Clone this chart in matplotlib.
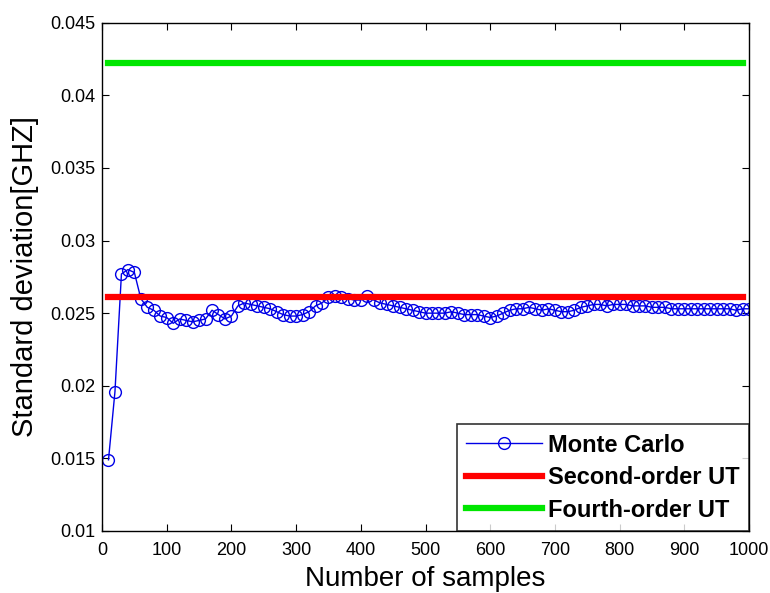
import numpy as np
import matplotlib
matplotlib.use('Agg')
import matplotlib.pyplot as plt

plt.rcParams['font.family'] = ['Liberation Sans', 'DejaVu Sans']

# Monte Carlo estimate of the std. dev. vs number of samples
n_samples = list(range(10, 1001, 10))
mc_std = [
    0.0149, 0.0196, 0.0277, 0.0280, 0.0278, 0.0260, 0.0254, 0.0252, 0.0248, 0.0247,
    0.0243, 0.0246, 0.0245, 0.0244, 0.0245, 0.0246, 0.0252, 0.0249, 0.0246, 0.0248,
    0.0255, 0.0257, 0.0256, 0.0255, 0.0254, 0.0253, 0.0251, 0.0249, 0.0248, 0.0248,
    0.0249, 0.0251, 0.0255, 0.0257, 0.0261, 0.0262, 0.0261, 0.0260, 0.0259, 0.0259,
    0.0262, 0.0259, 0.0257, 0.0256, 0.0255, 0.0254, 0.0253, 0.0252, 0.0251, 0.0250,
    0.0250, 0.0250, 0.0250, 0.0251, 0.0250, 0.0249, 0.0249, 0.0249, 0.0248, 0.0247,
    0.0248, 0.0250, 0.0252, 0.0253, 0.0253, 0.0254, 0.0253, 0.0252, 0.0253, 0.0252,
    0.0251, 0.0251, 0.0252, 0.0254, 0.0255, 0.0256, 0.0256, 0.0255, 0.0256, 0.0256,
    0.0256, 0.0255, 0.0255, 0.0255, 0.0254, 0.0254, 0.0254, 0.0253, 0.0253, 0.0253,
    0.0253, 0.0253, 0.0253, 0.0253, 0.0253, 0.0253, 0.0253, 0.0252, 0.0253, 0.0253,
]

# UT estimates are constant
ut2_x = [10, 990]
ut2_std = [0.0261, 0.0261]
ut4_x = [10, 990]
ut4_std = [0.0422, 0.0422]

fig = plt.figure(figsize=(7.7, 5.93), dpi=100)
ax = fig.add_axes([0.1325, 0.1046, 0.8402, 0.8571])

ax.plot(n_samples, mc_std, color='#0000e6', lw=1.0, marker='o', ms=8.5,
        mfc='none', mec='#0000e6', mew=1.0, label='Monte Carlo')
ax.plot(ut2_x, ut2_std, color='#ff0000', lw=4.5, label='Second-order UT')
ax.plot(ut4_x, ut4_std, color='#00e600', lw=4.5, label='Fourth-order UT')

ax.set_xlim(0, 1000)
ax.set_ylim(0.01, 0.045)
ax.set_xticks(np.arange(0, 1001, 100))
ax.set_yticks(np.arange(0.01, 0.0451, 0.005))
ax.set_yticklabels(['0.01', '0.015', '0.02', '0.025', '0.03', '0.035', '0.04', '0.045'])
ax.tick_params(direction='in', top=True, right=True, labelsize=13, length=5)
ax.tick_params(axis='x', pad=8)
ax.tick_params(axis='y', pad=5)
for s in ax.spines.values():
    s.set_linewidth(1.0)

ax.set_xlabel('Number of samples', fontsize=20, labelpad=5)
ax.set_ylabel('Standard deviation[GHZ]', fontsize=21, labelpad=8)

leg = ax.legend(loc='lower right', frameon=True, fancybox=False,
                borderaxespad=0.0, handlelength=3.2, handletextpad=0.25,
                labelspacing=0.4, borderpad=0.4,
                prop={'weight': 'bold', 'size': 17})
leg.get_frame().set_edgecolor('black')
leg.get_frame().set_linewidth(1.2)

fig.savefig('out.png', dpi=100)
